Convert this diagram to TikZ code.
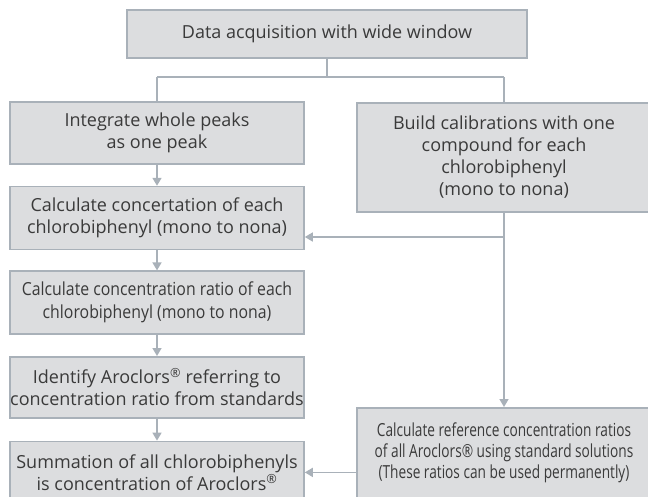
\documentclass[tikz,border=0pt]{standalone}
\usepackage{fontspec}
\setmainfont{Open Sans}
\newfontfamily\condfont[FakeStretch=0.88]{Open Sans}
\newfontfamily\narrowfont[FakeStretch=0.76]{Open Sans}
\usetikzlibrary{positioning, arrows.meta}

\definecolor{boxfill}{HTML}{DCDDDF}
\definecolor{boxline}{HTML}{A9B1B9}
\definecolor{boxtext}{HTML}{3A3A3A}

\begin{document}
\begin{tikzpicture}[
    x=1pt, y=-1pt,
    >={Triangle[length=8pt, width=9pt]},
    node distance=21pt,
    box/.style={draw=boxline, line width=1.6pt, fill=boxfill, text=boxtext,
        align=center, minimum width=294pt, inner sep=0pt,
        font=\fontsize{18}{22}\selectfont},
    link/.style={draw=boxline, line width=1.6pt}
]
    \useasboundingbox (0,0) rectangle (648,496);

    % Boxes
    \node[box, minimum width=400pt, minimum height=48pt] (acq) at (327,34)
        {Data acquisition with wide window};
    \node[box, minimum height=62pt] (integ) at (157,133)
        {Integrate whole peaks\\as one peak};
    \node[box, minimum height=63pt, below=of integ] (conc)
        {Calculate concertation of each\\chlorobiphenyl (mono to nona)};
    \node[box, minimum height=63pt, below=20pt of conc, font=\fontsize{18}{23}\selectfont\condfont] (ratio)
        {Calculate concentration ratio of each\\chlorobiphenyl (mono to nona)};
    \node[box, minimum height=61pt, below=of ratio] (ident)
        {Identify Aroclors\textsuperscript{®} referring to\\concentration ratio from standards};
    \node[box, minimum height=62pt, below=22pt of ident] (summ)
        {Summation of all chlorobiphenyls\\is concentration of Aroclors\textsuperscript{®}};
    \node[box, minimum height=109pt, anchor=north] (calib) at (504,102)
        {Build calibrations with one\\compound for each\\chlorobiphenyl\\(mono to nona)};
    \node[box, minimum height=90pt, anchor=north, font=\fontsize{18}{21}\selectfont\narrowfont] (refr) at (504,407)
        {Calculate reference concentration ratios\\of all Aroclors® using standard solutions\\(These ratios can be used permanently)};

    % Connectors
    \coordinate (split) at (acq.south |- 0,77);
    \coordinate (join) at (calib.south |- 0,237);
    \path[link] (acq.south) -- (split);
    \path[link] (integ.north |- split) -- (calib.north |- split);
    \path[link] (integ.north |- split) -- (integ.north);
    \path[link] (calib.north |- split) -- (calib.north);

    \path[link, ->] (integ) -- (conc);
    \path[link, ->] (conc) -- (ratio);
    \path[link, ->] (ratio) -- (ident);
    \path[link, ->] (ident) -- (summ);

    \path[link, ->] (calib) -- (refr);
    \path[link, ->] (join) -- (conc.east |- join);
    \path[link, ->] (refr.west |- summ.east) -- (summ.east);

\end{tikzpicture}
\end{document}
